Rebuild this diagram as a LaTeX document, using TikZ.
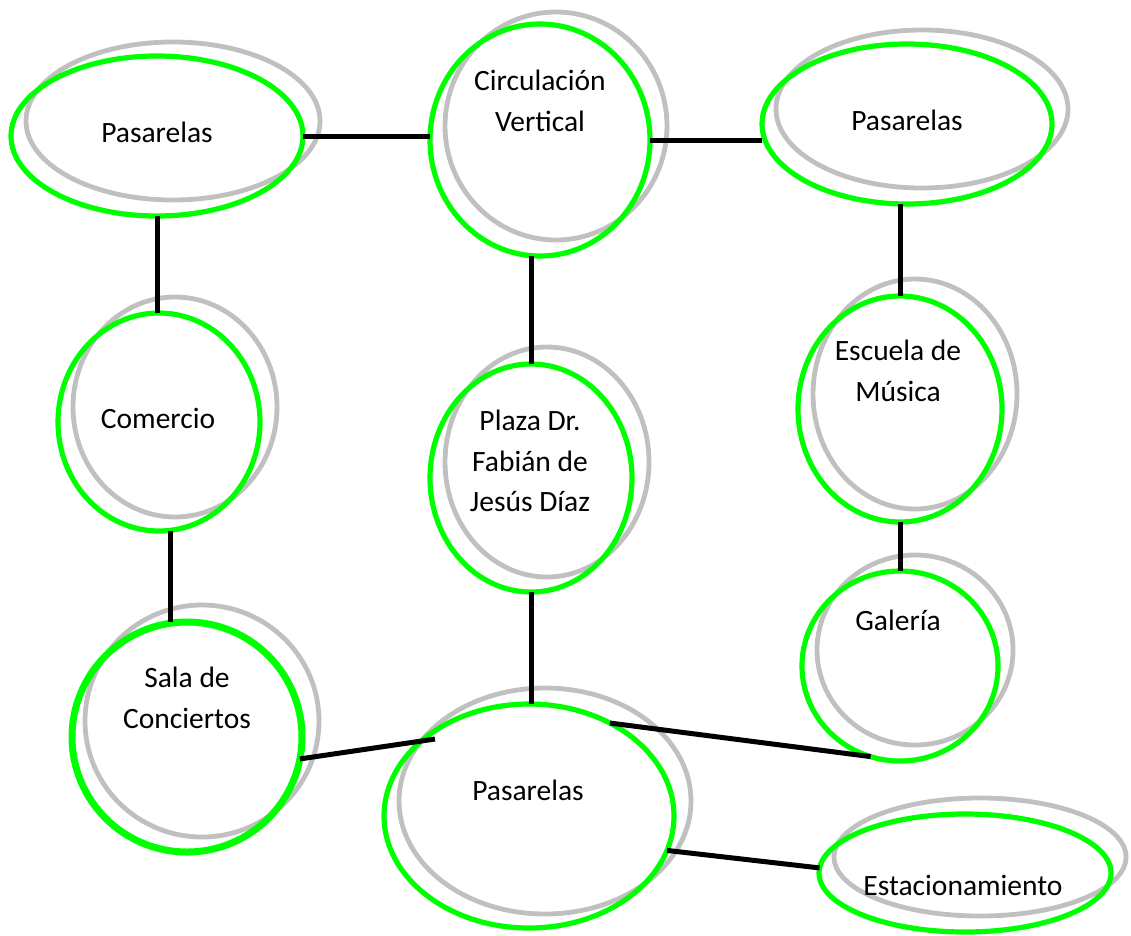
\documentclass[tikz,border=0pt]{standalone}
\usepackage{fontspec}
\setmainfont{Carlito}
\usetikzlibrary{shapes.geometric}
\definecolor{ringgreen}{RGB}{0,255,0}
\definecolor{ringgray}{RGB}{192,192,192}
\begin{document}
\begin{tikzpicture}[x=1pt,y=-1pt,
  shadowring/.style={ellipse, draw=ringgray, line width=4.8pt, inner sep=0pt, outer sep=0pt},
  mainring/.style={ellipse, draw=ringgreen, line width=5.2pt, inner sep=0pt, outer sep=0pt},
  lbl/.style={font=\fontsize{29.5}{40.5}\selectfont, align=center, inner sep=0pt, text=black},
  link/.style={line width=5pt, draw=black}]
\useasboundingbox (0,0) rectangle (1131,935);
% gray shadow rings
\node[shadowring, minimum width=294pt, minimum height=158pt] (tlg) at (173,121) {};
\node[shadowring, minimum width=222pt, minimum height=228pt] (cvg) at (556,126) {};
\node[shadowring, minimum width=292pt, minimum height=158pt] (trg) at (922,109) {};
\node[shadowring, minimum width=204pt, minimum height=220pt] (comg) at (175,407) {};
\node[shadowring, minimum width=204pt, minimum height=230pt] (plazag) at (547,462) {};
\node[shadowring, minimum width=204pt, minimum height=230pt] (escg) at (915,394) {};
\node[shadowring, minimum width=196pt, minimum height=190pt] (galg) at (915,650) {};
\node[shadowring, minimum width=234pt, minimum height=232pt] (salag) at (202,721) {};
\node[shadowring, minimum width=292pt, minimum height=226pt] (pbg) at (545,801) {};
\node[shadowring, minimum width=292pt, minimum height=118pt] (estg) at (980,857) {};
% green rings
\node[mainring, minimum width=292pt, minimum height=160pt] (tl) at (157,136) {};
\node[mainring, minimum width=220pt, minimum height=232pt] (cv) at (540,140) {};
\node[mainring, minimum width=290pt, minimum height=160pt] (tr) at (907,124) {};
\node[mainring, minimum width=202pt, minimum height=218pt] (com) at (159,422) {};
\node[mainring, minimum width=202pt, minimum height=228pt] (plaza) at (531,478) {};
\node[mainring, minimum width=204pt, minimum height=226pt] (esc) at (900,409) {};
\node[mainring, minimum width=196pt, minimum height=190pt] (gal) at (900,666) {};
\node[mainring, line width=7pt, minimum width=230pt, minimum height=230pt] (sala) at (187,737) {};
\node[mainring, minimum width=290pt, minimum height=224pt] (pb) at (529,816) {};
\node[mainring, minimum width=292pt, minimum height=118pt] (est) at (965,873) {};
% labels
\node[lbl] (tlt) at (157,132) {Pasarelas};
\node[lbl] (cvt) at (540,101) {Circulación\\Vertical};
\node[lbl] (trt) at (907,120) {Pasarelas};
\node[lbl] (comt) at (158,418) {Comercio};
\node[lbl] (plazat) at (530,461) {Plaza Dr.\\Fabián de\\Jesús Díaz};
\node[lbl] (esct) at (898,371) {Escuela de\\Música};
\node[lbl] (galt) at (898,620) {Galería};
\node[lbl] (salat) at (187,698) {Sala de\\Conciertos};
\node[lbl] (pbt) at (528,790) {Pasarelas};
\node[lbl] (estt) at (963,885) {Estacionamiento};
% connectors
\coordinate (salaend) at (435,739);
\draw[link] (tl.east) -- (cv.west |- tl.east);
\draw[link] (cv.east) -- (cv.east -| tr.west);
\draw[link] (tl.south) -- (tl.south |- com.north);
\draw[link] (plaza.north) -- (plaza.north |- cv.south);
\draw[link] (esc.north) -- (esc.north |- tr.south);
\draw[link] ([xshift=11pt]com.south) -- ([xshift=11pt]com.south |- sala.north);
\draw[link] (plaza.south) -- (plaza.south |- pb.north);
\draw[link] (esc.south) -- (esc.south |- gal.north);
\draw[link] (sala.-11) -- (salaend);
\draw[link] (pb.49) -- (gal.-108);
\draw[link] (pb.-14) -- (est.178);
\end{tikzpicture}
\end{document}
